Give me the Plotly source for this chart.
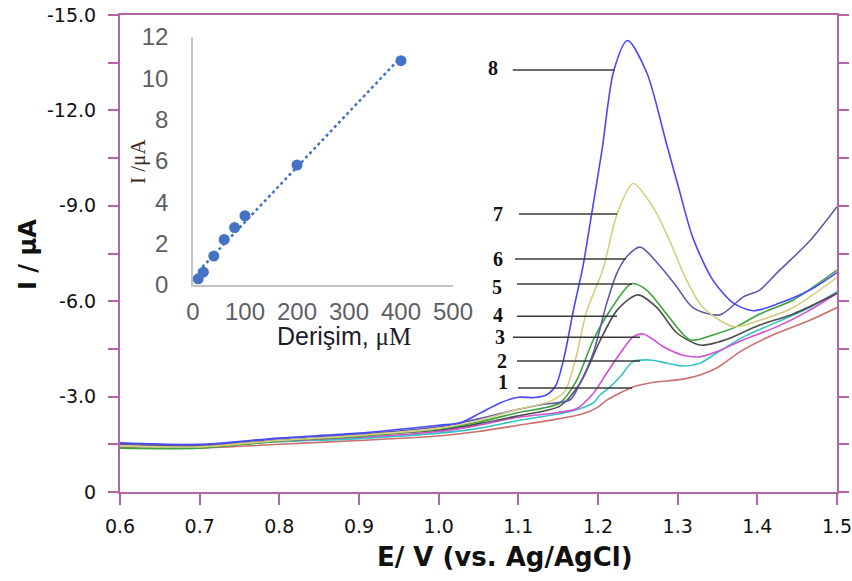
import numpy as np
import plotly.graph_objects as go

# ---- Differential pulse voltammograms (potential in V, current in µA, anodic negative) ----
e1 = [0.60, 0.70, 0.80, 0.90, 1.00, 1.05, 1.10, 1.15, 1.18, 1.20, 1.211, 1.244, 1.265, 1.307, 1.328, 1.349, 1.382, 1.425, 1.466, 1.50]
i1 = [-1.40, -1.38, -1.50, -1.62, -1.76, -1.90, -2.10, -2.30, -2.45, -2.67, -2.89, -3.30, -3.43, -3.55, -3.68, -3.90, -4.47, -5.00, -5.40, -5.80]

e2 = [0.60, 0.70, 0.80, 0.90, 1.00, 1.05, 1.10, 1.15, 1.175, 1.194, 1.2025, 1.215, 1.228, 1.244, 1.265, 1.287, 1.307, 1.328, 1.349, 1.382, 1.425, 1.466, 1.50]
i2 = [-1.45, -1.42, -1.58, -1.68, -1.85, -2.00, -2.25, -2.45, -2.60, -2.80, -3.05, -3.30, -3.63, -4.10, -4.15, -4.05, -3.96, -4.05, -4.37, -4.87, -5.35, -5.80, -6.30]

e3 = [0.60, 0.70, 0.80, 0.90, 1.00, 1.05, 1.10, 1.15, 1.173, 1.194, 1.211, 1.228, 1.244, 1.257, 1.282, 1.307, 1.328, 1.349, 1.382, 1.425, 1.466, 1.50]
i3 = [-1.50, -1.45, -1.60, -1.72, -1.90, -2.10, -2.35, -2.50, -2.62, -3.10, -3.74, -4.37, -4.88, -4.97, -4.57, -4.30, -4.25, -4.41, -4.78, -5.20, -5.72, -6.25]

e4 = [0.60, 0.70, 0.80, 0.90, 1.00, 1.05, 1.10, 1.152, 1.177, 1.203, 1.224, 1.25, 1.274, 1.299, 1.328, 1.349, 1.362, 1.403, 1.445, 1.50]
i4 = [-1.52, -1.45, -1.62, -1.78, -1.95, -2.15, -2.40, -2.70, -3.40, -4.78, -5.72, -6.20, -5.80, -5.00, -4.62, -4.70, -4.80, -5.25, -5.60, -6.25]

e5 = [0.60, 0.70, 0.80, 0.90, 1.00, 1.05, 1.10, 1.152, 1.173, 1.194, 1.215, 1.242, 1.261, 1.286, 1.316, 1.344, 1.374, 1.403, 1.445, 1.50]
i5 = [-1.38, -1.38, -1.60, -1.75, -1.98, -2.20, -2.50, -2.80, -3.50, -4.78, -5.70, -6.55, -6.35, -5.60, -4.78, -4.94, -5.20, -5.60, -6.04, -6.98]

e6 = [0.60, 0.70, 0.80, 0.90, 1.00, 1.05, 1.10, 1.13, 1.165, 1.177, 1.194, 1.211, 1.224, 1.236, 1.253, 1.278, 1.299, 1.319, 1.353, 1.382, 1.403, 1.425, 1.466, 1.50]
i6 = [-1.52, -1.48, -1.68, -1.82, -2.05, -2.30, -2.60, -2.75, -2.90, -3.40, -4.37, -5.94, -6.90, -7.40, -7.70, -7.10, -6.45, -5.80, -5.57, -6.13, -6.35, -6.90, -7.90, -8.97]

e7 = [0.60, 0.70, 0.80, 0.90, 1.00, 1.05, 1.10, 1.14, 1.158, 1.172, 1.186, 1.206, 1.224, 1.244, 1.269, 1.29, 1.311, 1.332, 1.37, 1.403, 1.445, 1.50]
i7 = [-1.45, -1.42, -1.62, -1.78, -2.00, -2.25, -2.60, -2.85, -3.15, -4.20, -5.70, -6.98, -8.74, -9.70, -8.96, -7.90, -6.67, -5.80, -5.20, -5.40, -5.80, -6.75]

e8 = [0.60, 0.70, 0.80, 0.90, 1.00, 1.027, 1.052, 1.077, 1.10, 1.12, 1.135, 1.147, 1.158, 1.169, 1.181, 1.192, 1.205, 1.220, 1.237, 1.261, 1.286, 1.303, 1.319, 1.344, 1.37, 1.395, 1.428, 1.466, 1.50]
i8 = [-1.55, -1.50, -1.70, -1.85, -2.10, -2.17, -2.48, -2.80, -2.98, -2.97, -3.05, -3.35, -4.30, -5.70, -7.08, -8.74, -10.75, -13.27, -14.20, -13.20, -10.95, -9.40, -8.00, -6.67, -5.94, -5.70, -5.94, -6.35, -6.90]

curve_colors = ["#cc6f6f", "#33c4c4", "#d24fd2", "#4d4d4d", "#3da23d", "#5b5baa", "#d8cd7e", "#4848ff"]

# ---- Calibration inset ----
conc = [10, 20, 40, 60, 80, 100, 200, 400]          # µM
peak_current = [0.30, 0.62, 1.40, 2.20, 2.78, 3.35, 5.80, 10.85]  # µA

x_ticks = [0.6, 0.7, 0.8, 0.9, 1.0, 1.1, 1.2, 1.3, 1.4, 1.5]
x_ticktext = ["0.6", "0.7", "0.8", "0.9", "1.0", "1.1", "1.2", "1.3", "1.4", "1.5"]
y_ticks = [0, -1.5, -3, -4.5, -6, -7.5, -9, -10.5, -12, -13.5, -15]
y_ticktext = ["0", "", "-3.0", "", "-6.0", "", "-9.0", "", "-12.0", "", "-15.0"]

axis_color = "#b862a8"
main_font = "DejaVu Sans"

fig = go.Figure()

series = [(e1, i1), (e2, i2), (e3, i3), (e4, i4), (e5, i5), (e6, i6), (e7, i7), (e8, i8)]
for k, (ex, iy) in enumerate(series):
    fig.add_trace(go.Scatter(
        x=ex, y=iy, mode="lines", name=str(k + 1),
        line=dict(color=curve_colors[k], width=1.6, shape="spline", smoothing=0.8),
        xaxis="x", yaxis="y", hoverinfo="skip",
    ))

# calibration points and linear fit
slope, intercept = np.polyfit(conc, peak_current, 1)
fit_x = np.array([min(conc), max(conc)])
fig.add_trace(go.Scatter(
    x=fit_x, y=slope * fit_x + intercept, mode="lines",
    line=dict(color="#4472c4", width=2.5, dash="dot"),
    xaxis="x2", yaxis="y2", hoverinfo="skip",
))
fig.add_trace(go.Scatter(
    x=conc, y=peak_current, mode="markers",
    marker=dict(color="#4472c4", size=11),
    xaxis="x2", yaxis="y2", hoverinfo="skip",
))

# curve labels with leader lines: (label, text E, text I, line E start, line E end, line I)
labels = [
    ("8", 1.068, -13.33, 1.093, 1.221, -13.27),
    ("7", 1.0745, -8.74, 1.1008, 1.2238, -8.74),
    ("6", 1.0745, -7.33, 1.0958, 1.2351, -7.33),
    ("5", 1.0732, -6.45, 1.0983, 1.2427, -6.54),
    ("4", 1.0745, -5.57, 1.0983, 1.2238, -5.53),
    ("3", 1.077, -4.87, 1.0933, 1.2527, -4.87),
    ("2", 1.0795, -4.12, 1.0983, 1.2527, -4.12),
    ("1", 1.0807, -3.46, 1.0996, 1.2427, -3.27),
]
annotations = []
shapes = []
for txt, tx, ty, lx0, lx1, ly in labels:
    annotations.append(dict(
        x=tx, y=ty, xref="x", yref="y", text="<b>%s</b>" % txt, showarrow=False,
        xanchor="center", yanchor="middle",
        font=dict(family="Liberation Serif", size=20, color="#111111"),
    ))
    shapes.append(dict(
        type="line", xref="x", yref="y", x0=lx0, x1=lx1, y0=ly, y1=ly,
        line=dict(color="#3a3a3a", width=1.5),
    ))

annotations += [
    dict(x=-0.1283, y=0.497, xref="paper", yref="paper", text="<b>I / µA</b>",
         textangle=-90, showarrow=False, xanchor="center", yanchor="middle",
         font=dict(family=main_font, size=24, color="#111111")),
    dict(x=0.537, y=-0.136, xref="paper", yref="paper", text="<b>E/ V (vs. Ag/AgCl)</b>",
         showarrow=False, xanchor="center", yanchor="middle",
         font=dict(family=main_font, size=26, color="#111111")),
    dict(x=0.0251, y=0.694, xref="paper", yref="paper", text="I /μA",
         textangle=-90, showarrow=False, xanchor="center", yanchor="middle",
         font=dict(family="Liberation Serif", size=21, color="#3b2b1e")),
    dict(x=0.3124, y=0.327, xref="paper", yref="paper",
         text='Derişim, <span style="font-family:Liberation Serif">μM</span>',
         showarrow=False, xanchor="center", yanchor="middle",
         font=dict(family="Liberation Sans", size=25, color="#1c1c2e")),
]

fig.update_layout(
    width=852, height=581,
    margin=dict(l=120, r=15, t=15, b=89, autoexpand=False),
    paper_bgcolor="white", plot_bgcolor="white",
    showlegend=False,
    xaxis=dict(
        domain=[0, 1], range=[0.6, 1.5], anchor="y", automargin=False,
        tickvals=x_ticks, ticktext=x_ticktext, ticklabeloverflow="allow",
        ticks="outside", ticklen=11, tickwidth=2, tickcolor=axis_color,
        showline=True, linecolor=axis_color, linewidth=2, mirror=True,
        showgrid=False, zeroline=False, ticklabelstandoff=5,
        tickfont=dict(family=main_font, size=19, color="#111111"),
    ),
    xaxis3=dict(
        overlaying="x", side="top", anchor="y", range=[0.6, 1.5], automargin=False,
        tickvals=x_ticks, ticks="outside", ticklen=4, tickwidth=2, tickcolor=axis_color,
        showticklabels=False, showline=False, showgrid=False, zeroline=False,
    ),
    yaxis=dict(
        domain=[0, 1], range=[0, -15], anchor="x", automargin=False,
        tickvals=y_ticks, ticktext=y_ticktext,
        ticks="outside", ticklen=10, tickwidth=2, tickcolor=axis_color,
        showline=True, linecolor=axis_color, linewidth=2, mirror="ticks",
        showgrid=False, zeroline=False, ticklabelstandoff=8,
        tickfont=dict(family=main_font, size=19, color="#111111"),
    ),
    xaxis2=dict(
        domain=[0.1018, 0.4644], range=[0, 500], anchor="y2", automargin=False,
        tickvals=[0, 100, 200, 300, 400, 500], ticklabeloverflow="allow",
        showline=True, linecolor="#c4c4c4", linewidth=1.5,
        ticks="", showgrid=False, zeroline=False, ticklabelstandoff=4,
        tickfont=dict(family="Liberation Sans", size=24, color="#5e5e66"),
    ),
    yaxis2=dict(
        domain=[0.434, 0.954], range=[0, 12], anchor="x2", automargin=False,
        tickvals=[0, 2, 4, 6, 8, 10, 12],
        showline=True, linecolor="#c4c4c4", linewidth=1.5,
        ticks="", showgrid=False, zeroline=False, ticklabelstandoff=18,
        tickfont=dict(family="Liberation Sans", size=24, color="#5e5e66"),
    ),
    annotations=annotations,
    shapes=shapes,
)

fig.write_html("out.html")
